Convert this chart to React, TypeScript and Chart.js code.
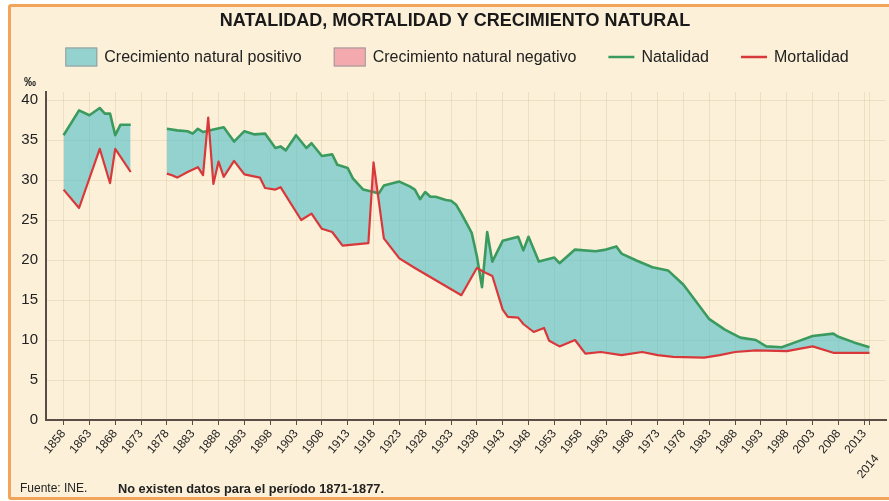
import React, { useEffect, useRef } from 'react';
import { Chart, registerables } from 'chart.js';

Chart.register(...registerables);

// ---------- text ----------
const TITLE = 'NATALIDAD, MORTALIDAD Y CRECIMIENTO NATURAL';
const LEGEND_LABELS = [
  'Crecimiento natural positivo',
  'Crecimiento natural negativo',
  'Natalidad',
  'Mortalidad',
];
const UNIT_LABEL = '‰';
const SOURCE_TEXT = 'Fuente: INE.';
const NOTE_TEXT = 'No existen datos para el período 1871-1877.';

// ---------- ticks ----------
const X_TICK_YEARS = [
  1858, 1863, 1868, 1873, 1878, 1883, 1888, 1893, 1898, 1903, 1908, 1913, 1918,
  1923, 1928, 1933, 1938, 1943, 1948, 1953, 1958, 1963, 1968, 1973, 1978, 1983,
  1988, 1993, 1998, 2003, 2008, 2013, 2014,
];
const DROPPED_TICK_YEAR = 2014; // drawn one line lower, as in the source
const Y_TICKS = [0, 5, 10, 15, 20, 25, 30, 35, 40];
const X_MIN = 1854.6;
const X_MAX = 2017.2;
const Y_MIN = 0;
const Y_MAX = 41;

// ---------- data (‰) ----------
// null = gap with no data (1871-1877)
const natalidadYears = [
  1858, 1861, 1863, 1865, 1866, 1867, 1868, 1869, 1871, 1874,
  1878, 1880, 1882, 1883, 1884, 1885, 1887, 1889, 1891, 1893, 1895, 1897, 1899,
  1900, 1901, 1903, 1905, 1906, 1908, 1910, 1911, 1913, 1914, 1916, 1918, 1919,
  1920, 1923, 1925, 1926, 1927, 1928, 1929, 1930, 1932, 1933, 1934, 1935, 1936,
  1937, 1938, 1939, 1940, 1941, 1943, 1946, 1947, 1948, 1950, 1953, 1954, 1957,
  1961, 1963, 1965, 1966, 1969, 1972, 1975, 1978, 1983, 1986, 1989, 1992, 1994,
  1997, 2000, 2003, 2007, 2008, 2011, 2014,
];
const natalidadValues = [
  35.6, 38.7, 38.1, 39.0, 38.3, 38.3, 35.6, 36.9, 36.9, null,
  36.4, 36.2, 36.1, 35.8, 36.4, 36.0, 36.3, 36.6, 34.8, 36.1, 35.7, 35.8, 34.0,
  34.2, 33.7, 35.6, 34.0, 34.6, 33.0, 33.2, 31.9, 31.5, 30.2, 28.8, 28.5, 28.3,
  29.3, 29.8, 29.2, 28.8, 27.6, 28.5, 27.9, 27.9, 27.5, 27.4, 26.9, 25.8, 24.6,
  23.4, 20.5, 16.6, 23.5, 19.8, 22.4, 22.9, 21.2, 22.9, 19.8, 20.3, 19.6, 21.3,
  21.1, 21.3, 21.7, 20.8, 19.9, 19.1, 18.7, 16.9, 12.6, 11.3, 10.3, 10.0, 9.2,
  9.1, 9.8, 10.5, 10.8, 10.4, 9.7, 9.1,
];

const mortalidadYears = [
  1858, 1861, 1865, 1867, 1868, 1871, 1874,
  1878, 1879, 1880, 1882, 1884, 1885, 1886, 1887, 1888, 1889, 1891, 1893, 1896,
  1897, 1899, 1900, 1904, 1906, 1908, 1910, 1912, 1917, 1918, 1920, 1923, 1926,
  1935, 1938, 1940, 1941, 1943, 1944, 1946, 1947, 1949, 1951, 1952, 1954, 1957,
  1959, 1962, 1966, 1970, 1973, 1976, 1982, 1985, 1988, 1992, 1998, 2003, 2007,
  2014,
];
const mortalidadValues = [
  28.8, 26.5, 33.9, 29.6, 33.9, 31.0, null,
  30.8, 30.6, 30.3, 31.0, 31.6, 30.6, 37.8, 29.5, 32.3, 30.4, 32.4, 30.7, 30.3,
  29.0, 28.8, 29.1, 25.0, 25.8, 23.9, 23.5, 21.8, 22.1, 32.2, 22.7, 20.2, 19.0,
  15.6, 19.0, 18.3, 18.0, 13.8, 12.9, 12.8, 12.0, 11.0, 11.5, 9.9, 9.2, 10.0,
  8.3, 8.5, 8.1, 8.5, 8.1, 7.9, 7.8, 8.1, 8.5, 8.7, 8.6, 9.2, 8.4,
  8.4,
];

// ---------- style ----------
const FONT = "'Liberation Sans', Arial, Helvetica, sans-serif";
const CREAM = '#fcf0d9';
const ORANGE = '#f1a45a';
const GREEN = '#3b9b5e';
const RED = '#d9383a';
const TEAL = 'rgba(76, 190, 200, 0.6)';
const PINK = 'rgba(240, 128, 150, 0.64)';
const AXIS = '#5a4d45';
const GRID = 'rgba(185, 155, 105, 0.2)';
const TEXT = '#222222';
const X_ROT = 50;
const CANVAS_W = 888;
const CANVAS_H = 490;

const extrasPlugin = {
  id: 'extras',
  afterDraw(chart: any) {
    const ctx = chart.ctx as CanvasRenderingContext2D;
    const xs = chart.scales.x;
    const ys = chart.scales.y;
    ctx.save();

    // title
    ctx.font = `bold 18px ${FONT}`;
    ctx.fillStyle = '#1a1a1a';
    ctx.textAlign = 'center';
    ctx.textBaseline = 'middle';
    ctx.fillText(TITLE, chart.width / 2, 14);

    // legend
    ctx.font = `16px ${FONT}`;
    const markers = [
      { kind: 'box', color: TEAL },
      { kind: 'box', color: PINK },
      { kind: 'line', color: GREEN },
      { kind: 'line', color: RED },
    ];
    const boxW = 32;
    const lineW = 26;
    const textGap = 7;
    const itemGap = 32;
    const widths = LEGEND_LABELS.map((t, i) =>
      (markers[i].kind === 'box' ? boxW : lineW) + textGap + ctx.measureText(t).width
    );
    const total = widths.reduce((a, b) => a + b, 0) + itemGap * (widths.length - 1);
    let lx = chart.width / 2 - total / 2 + 2;
    const ly = 50;
    LEGEND_LABELS.forEach((t, i) => {
      const m = markers[i];
      let mw: number;
      if (m.kind === 'box') {
        mw = boxW;
        ctx.fillStyle = CREAM;
        ctx.fillRect(lx, ly - 9.5, boxW, 19);
        ctx.fillStyle = m.color;
        ctx.fillRect(lx, ly - 9.5, boxW, 19);
        ctx.strokeStyle = '#9a9a9a';
        ctx.lineWidth = 1;
        ctx.strokeRect(lx + 0.5, ly - 9, boxW - 1, 18);
      } else {
        mw = lineW;
        ctx.strokeStyle = m.color;
        ctx.lineWidth = 2.5;
        ctx.beginPath();
        ctx.moveTo(lx, ly);
        ctx.lineTo(lx + lineW, ly);
        ctx.stroke();
      }
      ctx.fillStyle = TEXT;
      ctx.textAlign = 'left';
      ctx.textBaseline = 'middle';
      ctx.fillText(t, lx + mw + textGap, ly + 1);
      lx += widths[i] + itemGap;
    });

    // unit label above the y axis
    ctx.font = `bold 12px ${FONT}`;
    ctx.fillStyle = TEXT;
    ctx.textAlign = 'center';
    ctx.textBaseline = 'middle';
    ctx.fillText(UNIT_LABEL, ys.right - 16, chart.chartArea.top - 9);

    // dropped last tick label
    const px = xs.getPixelForValue(DROPPED_TICK_YEAR);
    ctx.font = `12px ${FONT}`;
    ctx.translate(px + 2, xs.top + 7 + 25);
    ctx.rotate((-X_ROT * Math.PI) / 180);
    ctx.textAlign = 'right';
    ctx.textBaseline = 'middle';
    ctx.fillStyle = TEXT;
    ctx.fillText(String(DROPPED_TICK_YEAR), 0, 7);
    ctx.setTransform(1, 0, 0, 1, 0, 0);

    // footer
    ctx.textAlign = 'left';
    ctx.textBaseline = 'middle';
    ctx.font = `12px ${FONT}`;
    ctx.fillText(SOURCE_TEXT, 9, chart.height - 8);
    ctx.font = `bold 12.8px ${FONT}`;
    ctx.fillText(NOTE_TEXT, 107, chart.height - 8);
    ctx.restore();
  },
};

export default function App() {
  const ref = useRef<HTMLCanvasElement>(null);
  useEffect(() => {
    const canvas = ref.current;
    if (!canvas) return;
    const chart = new Chart(canvas, {
      type: 'line',
      data: {
        datasets: [
          {
            label: LEGEND_LABELS[2],
            data: natalidadYears.map((x, i) => ({ x, y: natalidadValues[i] })),
            borderColor: GREEN,
            borderWidth: 2.6,
            pointRadius: 0,
            tension: 0,
            spanGaps: false,
            borderJoinStyle: 'round',
            fill: { target: 1, above: TEAL, below: PINK },
            order: 1,
          },
          {
            label: LEGEND_LABELS[3],
            data: mortalidadYears.map((x, i) => ({ x, y: mortalidadValues[i] })),
            borderColor: RED,
            borderWidth: 2.2,
            pointRadius: 0,
            tension: 0,
            spanGaps: false,
            borderJoinStyle: 'round',
            fill: false,
            order: 0,
          },
        ],
      },
      options: {
        responsive: false,
        animation: false,
        layout: { padding: { top: 85, left: 0, right: 13, bottom: 0 } },
        plugins: {
          legend: { display: false },
          tooltip: { enabled: false },
          title: { display: false },
          filler: { drawTime: 'beforeDatasetsDraw', propagate: false },
        },
        scales: {
          x: {
            type: 'linear',
            min: X_MIN,
            max: X_MAX,
            afterBuildTicks: (s: any) => {
              s.ticks = X_TICK_YEARS.map((v) => ({ value: v }));
            },
            afterFit: (s: any) => {
              s.height = 77;
            },
            ticks: {
              autoSkip: false,
              minRotation: X_ROT,
              maxRotation: X_ROT,
              padding: 2,
              color: TEXT,
              font: { family: FONT, size: 12 },
              callback: (v: any) => (v === DROPPED_TICK_YEAR ? '' : String(v)),
            },
            grid: { color: GRID, tickColor: AXIS, tickLength: 5, lineWidth: 1 },
            border: { color: AXIS, width: 2 },
          },
          y: {
            min: Y_MIN,
            max: Y_MAX,
            afterBuildTicks: (s: any) => {
              s.ticks = Y_TICKS.map((v) => ({ value: v }));
            },
            afterFit: (s: any) => {
              s.width = 35;
            },
            ticks: {
              padding: 8,
              color: TEXT,
              font: { family: FONT, size: 15 },
              callback: (v: any) => String(v),
            },
            grid: { color: GRID, drawTicks: false },
            border: { color: AXIS, width: 2 },
          },
        },
      },
      plugins: [extrasPlugin],
    } as any);
    return () => chart.destroy();
  }, []);

  return (
    <div
      style={{
        position: 'fixed',
        left: 0,
        top: 0,
        width: 889,
        height: 501,
        overflow: 'hidden',
        background: '#ffffff',
      }}
    >
      <div
        style={{
          position: 'absolute',
          left: 8,
          top: 4,
          width: CANVAS_W,
          height: CANVAS_H,
          border: `3px solid ${ORANGE}`,
          borderRadius: 3,
          background: CREAM,
        }}
      >
        <canvas ref={ref} width={CANVAS_W} height={CANVAS_H} style={{ display: 'block' }} />
      </div>
    </div>
  );
}
